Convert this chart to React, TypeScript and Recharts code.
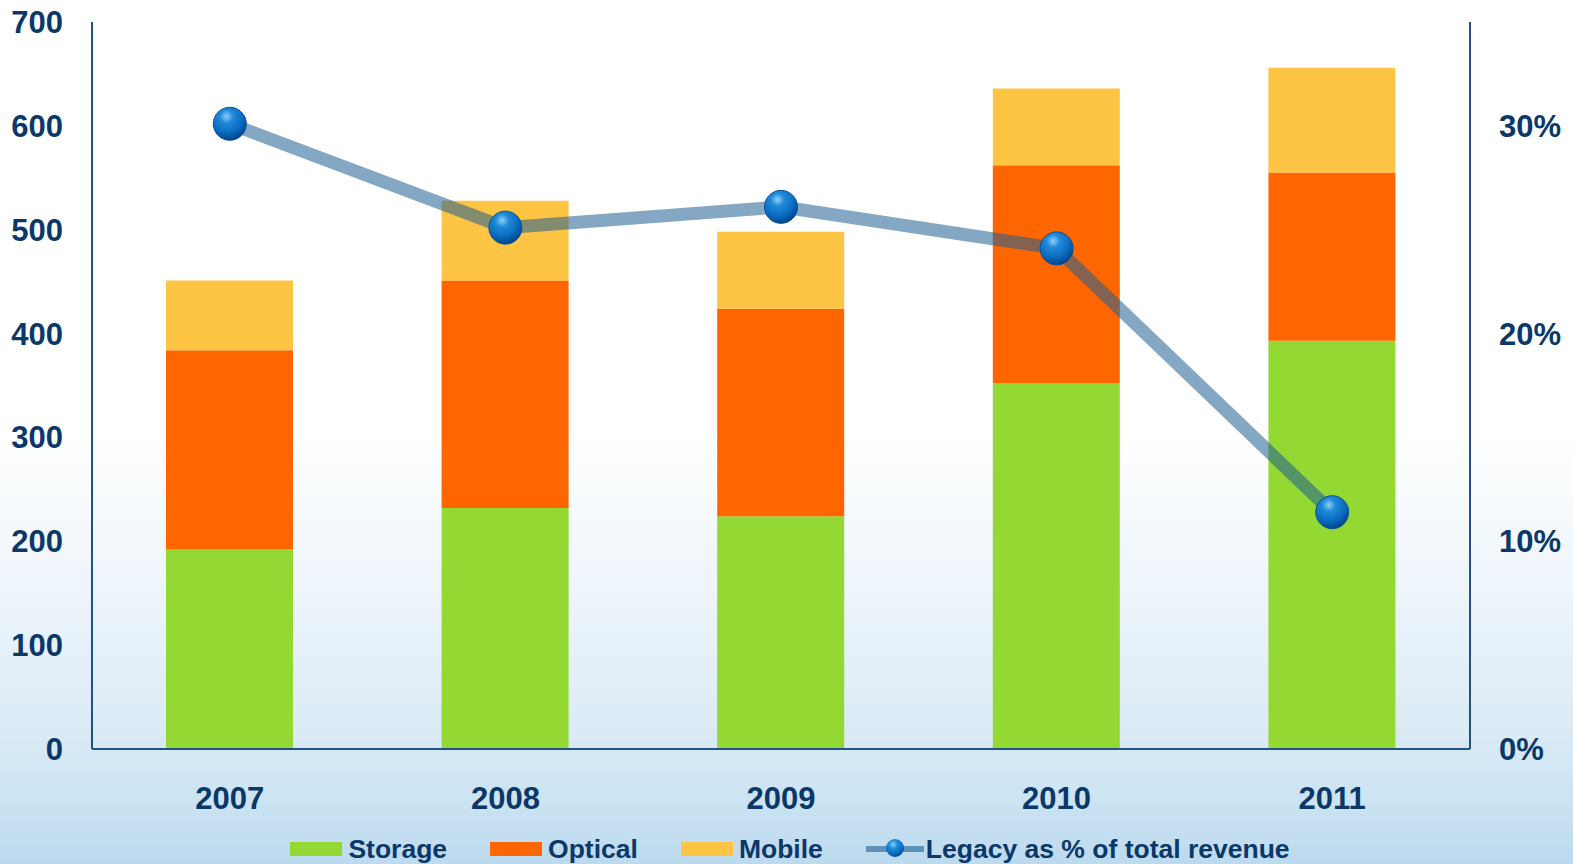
import React from 'react';
import { ComposedChart, Bar, Line, XAxis, YAxis, Legend } from 'recharts';

const years = ['2007', '2008', '2009', '2010', '2011'];
const storage = [192, 232, 224, 352, 393];
const optical = [192, 219, 200, 210, 162];
const mobile = [67, 77, 74, 74, 101];
const legacyPct = [0.301, 0.251, 0.261, 0.241, 0.114];
const leftTicks = [0, 100, 200, 300, 400, 500, 600, 700];
const rightTicks = [0, 0.1, 0.2, 0.3];

const data = years.map((y, i) => ({
  year: y,
  storage: storage[i],
  optical: optical[i],
  mobile: mobile[i],
  legacy: legacyPct[i],
}));

const FONT = '"Liberation Sans", Arial, Helvetica, sans-serif';
const TEXT = '#0b3868';
const AXIS = '#1f5285';
const C_STORAGE = '#94d834';
const C_OPTICAL = '#ff6600';
const C_MOBILE = '#fec444';
const LINE = '#1f5f94';

const tickStyle = { fill: TEXT, fontSize: 31, fontWeight: 700, fontFamily: FONT };

const Ball = (props: any) => {
  const { cx, cy, index } = props;
  if (cx == null || cy == null) return null;
  return (
    <g key={`ball-${index}`}>
      <circle cx={cx} cy={cy} r={16.5} fill="url(#ballGrad)" stroke="#0a4f96" strokeWidth={1} />
    </g>
  );
};

const LegendContent = () => {
  const item = (swatch: React.ReactNode, label: string) => (
    <div style={{ display: 'flex', alignItems: 'center', marginRight: 43 }} key={label}>
      {swatch}
      <span style={{ fontFamily: FONT, fontWeight: 700, fontSize: 26.5, color: TEXT, lineHeight: '28px', whiteSpace: 'nowrap' }}>{label}</span>
    </div>
  );
  const sw = (c: string) => <div style={{ width: 52, height: 14, background: c, marginRight: 6 }} />;
  const lineIcon = (
    <svg width={58} height={28} style={{ marginRight: 2 }}>
      <defs>
        <radialGradient id="ballGradL" cx="40%" cy="30%" r="70%">
          <stop offset="0%" stopColor="#8fd0fa" />
          <stop offset="35%" stopColor="#1c8ad9" />
          <stop offset="75%" stopColor="#0a6cc0" />
          <stop offset="100%" stopColor="#004a94" />
        </radialGradient>
      </defs>
      <line x1={0} y1={14} x2={58} y2={14} stroke={LINE} strokeOpacity={0.6} strokeWidth={6} />
      <circle cx={29} cy={13} r={9} fill="url(#ballGradL)" />
    </svg>
  );
  return (
    <div style={{ height: 58, width: 1573, display: 'flex', justifyContent: 'center', alignItems: 'flex-start', paddingTop: 29, boxSizing: 'border-box', paddingLeft: 50 }}>
      {item(sw(C_STORAGE), 'Storage')}
      {item(sw(C_OPTICAL), 'Optical')}
      {item(sw(C_MOBILE), 'Mobile')}
      {item(lineIcon, 'Legacy as % of total revenue')}
    </div>
  );
};

export default function App() {
  return (
    <div
      style={{
        position: 'absolute',
        left: 0,
        top: 0,
        width: 1573,
        height: 864,
        background: 'linear-gradient(to bottom, #ffffff 0%, #ffffff 50%, #eef5fb 68%, #dcebf6 84%, #c9e2f2 94%, #bcdaee 100%)',
        overflow: 'hidden',
      }}
    >
      <ComposedChart
        width={1573}
        height={864}
        data={data}
        margin={{ top: 22, right: 0, bottom: 0, left: 0 }}
        barCategoryGap={0}
      >
        <defs>
          <radialGradient id="ballGrad" cx="40%" cy="28%" r="72%">
            <stop offset="0%" stopColor="#8fd0fa" />
            <stop offset="28%" stopColor="#1f8ad9" />
            <stop offset="70%" stopColor="#0a6abd" />
            <stop offset="100%" stopColor="#00468e" />
          </radialGradient>
        </defs>
        <XAxis
          dataKey="year"
          height={57}
          tick={tickStyle}
          tickLine={false}
          tickSize={0}
          tickMargin={38}
          axisLine={{ stroke: AXIS, strokeWidth: 2 }}
        />
        <YAxis
          yAxisId="left"
          width={92}
          domain={[0, 700]}
          ticks={leftTicks}
          interval={0}
          tick={tickStyle}
          tickLine={false}
          tickSize={0}
          tickMargin={29}
          axisLine={{ stroke: AXIS, strokeWidth: 2 }}
        />
        <YAxis
          yAxisId="right"
          orientation="right"
          width={103}
          domain={[0, 0.35]}
          ticks={rightTicks}
          interval={0}
          tickFormatter={(v: number) => `${Math.round(v * 100)}%`}
          tick={tickStyle}
          tickLine={false}
          tickSize={0}
          tickMargin={29}
          axisLine={{ stroke: AXIS, strokeWidth: 2 }}
        />
        <Legend verticalAlign="bottom" content={<LegendContent />} wrapperStyle={{ left: 0, width: 1573, bottom: 0 }} />
        <Bar yAxisId="left" dataKey="storage" stackId="a" fill={C_STORAGE} barSize={127} isAnimationActive={false} />
        <Bar yAxisId="left" dataKey="optical" stackId="a" fill={C_OPTICAL} barSize={127} isAnimationActive={false} />
        <Bar yAxisId="left" dataKey="mobile" stackId="a" fill={C_MOBILE} barSize={127} isAnimationActive={false} />
        <Line
          yAxisId="right"
          dataKey="legacy"
          stroke={LINE}
          strokeOpacity={0.55}
          strokeWidth={13}
          dot={<Ball />}
          activeDot={false}
          isAnimationActive={false}
        />
      </ComposedChart>
    </div>
  );
}
